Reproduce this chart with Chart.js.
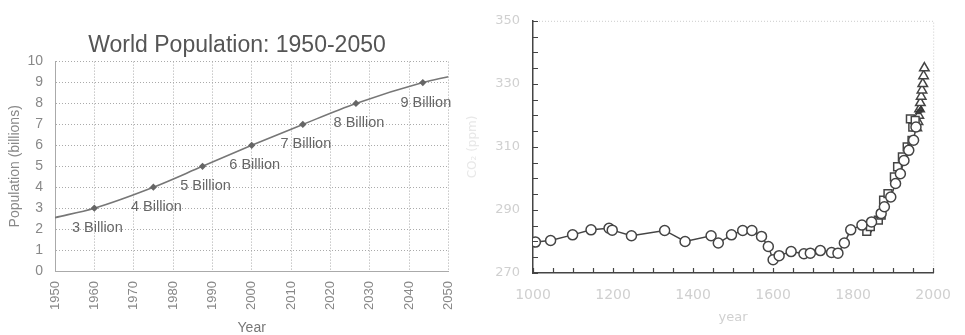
<!DOCTYPE html>
<html lang="en">
<head>
  <meta charset="UTF-8">
  <title>World Population and CO2</title>
  <style>
    body { margin: 0; background: #fff; }
    .wrap { position: relative; width: 965px; height: 335px; overflow: hidden; }
    #popBox { position: absolute; left: 0; top: 0; width: 474px; height: 335px; }
    #co2Box { position: absolute; left: 460px; top: 0; width: 505px; height: 335px; }
  </style>
</head>
<body>
  <div class="wrap">
    <div id="popBox"><canvas id="popChart"></canvas></div>
    <div id="co2Box"><canvas id="co2Chart"></canvas></div>
  </div>

  <script src="https://cdn.jsdelivr.net/npm/chart.js"></script>
  <script>
    // left chart: world population
    const popYears = [1950, 1960, 1975, 1987.5, 2000, 2013, 2026.5, 2043.5, 2050];
    const popValues = [2.55, 3, 4, 5, 6, 7, 8, 9, 9.28];
    const milestoneLabels = ['', '3 Billion', '4 Billion', '5 Billion', '6 Billion', '7 Billion', '8 Billion', '9 Billion', ''];

    // right chart: CO2 from ice cores and Mauna Loa
    const lawDomeYears = [1006, 1044, 1099, 1145, 1190, 1198, 1246, 1329, 1380, 1445, 1463, 1496, 1524, 1547, 1571, 1588, 1600, 1615, 1645, 1677, 1693, 1718, 1746, 1762, 1778, 1794, 1822, 1846, 1870, 1878, 1894, 1906, 1918, 1927, 1939, 1951, 1957];
    const lawDomeCO2 = [279.8, 280.3, 282.1, 283.7, 284.2, 283.6, 281.8, 283.5, 280.0, 281.8, 279.5, 282.1, 283.5, 283.5, 281.6, 278.4, 274.2, 275.5, 276.8, 276.1, 276.3, 277.1, 276.5, 276.3, 279.5, 283.7, 285.2, 286.2, 288.9, 291, 294.1, 298.4, 301.5, 305.7, 308.9, 312.1, 316.3];
    const sipleYears = [1834, 1843, 1863, 1870, 1876, 1887, 1903, 1911, 1923, 1935, 1943, 1947, 1949, 1955];
    const sipleCO2 = [283.2, 284.7, 286.8, 288.4, 293.1, 295.2, 300.5, 303.7, 306.8, 310, 318.9, 312.1, 316.3, 318.4];
    const maunaLoaYears = [1959, 1962, 1964, 1966, 1968, 1970, 1972, 1974, 1976, 1978];
    const maunaLoaCO2 = [316, 318, 320, 322, 324, 326, 328, 330, 332.5, 335];
    const byrdYears = [1840, 1872, 1893, 1912, 1930, 1962, 1966, 1969];
    const byrdCO2 = [283.5, 288, 295, 302, 307.5, 321, 321.5, 322];

    const co2Ticks = [270, 290, 310, 330, 350];
    const co2YearTicks = [1000, 1200, 1400, 1600, 1800, 2000];

    const pts = (xs, ys) => xs.map((x, i) => ({ x: x, y: ys[i] }));

    // writes "N Billion" under each milestone point
    const milestonePlugin = {
      id: 'milestones',
      afterDatasetsDraw(chart) {
        const ctx = chart.ctx;
        const meta = chart.getDatasetMeta(0);
        ctx.save();
        ctx.font = '14.5px "Liberation Sans", Arial, sans-serif';
        ctx.fillStyle = '#666';
        ctx.textAlign = 'center';
        ctx.textBaseline = 'middle';
        meta.data.forEach((pt, i) => {
          if (milestoneLabels[i]) ctx.fillText(milestoneLabels[i], pt.x + 3, pt.y + 20);
        });
        ctx.restore();
      }
    };

    new Chart(document.getElementById('popChart'), {
      type: 'line',
      data: {
        datasets: [{
          data: pts(popYears, popValues),
          borderColor: '#777',
          borderWidth: 1.6,
          cubicInterpolationMode: 'monotone',
          pointStyle: 'rectRot',
          pointRadius: milestoneLabels.map(l => l ? 2.5 : 0),
          pointBackgroundColor: '#666',
          pointBorderColor: '#666',
          fill: false
        }]
      },
      options: {
        responsive: true,
        maintainAspectRatio: false,
        animation: false,
        layout: { padding: { left: 0, right: 0, top: 0, bottom: 0 } },
        plugins: {
          legend: { display: false },
          tooltip: { enabled: false },
          title: {
            display: true,
            text: 'World Population: 1950-2050',
            color: '#555',
            font: { size: 23, family: '"Liberation Sans", Arial, sans-serif', weight: 'normal' },
            padding: { top: 32, bottom: 2 }
          }
        },
        scales: {
          x: {
            type: 'linear',
            min: 1950,
            max: 2050,
            ticks: {
              stepSize: 10,
              minRotation: 90,
              maxRotation: 90,
              padding: 10,
              color: '#888',
              font: { size: 13, family: '"Liberation Sans", Arial, sans-serif' },
              callback: v => String(v)
            },
            grid: { color: '#aaa', drawTicks: false },
            border: { dash: [1, 2], color: '#aaa' },
            title: {
              display: true,
              text: 'Year',
              color: '#777',
              font: { size: 14, family: '"Liberation Sans", Arial, sans-serif', lineHeight: 1 },
              padding: { top: 0, bottom: 0 }
            },
            afterFit: s => { s.height = 64; }
          },
          y: {
            min: 0,
            max: 10,
            ticks: {
              stepSize: 1,
              padding: 12,
              color: '#888',
              font: { size: 14, family: '"Liberation Sans", Arial, sans-serif' }
            },
            grid: { color: '#aaa', drawTicks: false },
            border: { dash: [1, 2], color: '#aaa' },
            title: {
              display: true,
              text: 'Population (billions)',
              color: '#888',
              font: { size: 14, family: '"Liberation Sans", Arial, sans-serif' },
              padding: { top: 7, bottom: 0 }
            },
            afterFit: s => { s.width = 55; }
          }
        }
      },
      plugins: [milestonePlugin]
    });

    // inward tick marks and the light dotted top/right frame
    const framePlugin = {
      id: 'frame',
      afterDraw(chart) {
        const ctx = chart.ctx;
        const a = chart.chartArea;
        const xs = chart.scales.x, ys = chart.scales.y;
        ctx.save();
        ctx.strokeStyle = '#ccc';
        ctx.lineWidth = 1;
        ctx.setLineDash([1, 2]);
        ctx.beginPath();
        ctx.moveTo(a.left, a.top + 0.5);
        ctx.lineTo(a.right + 0.5, a.top + 0.5);
        ctx.lineTo(a.right + 0.5, a.bottom);
        ctx.stroke();
        ctx.setLineDash([]);
        ctx.strokeStyle = '#444';
        ctx.lineWidth = 1.2;
        ctx.beginPath();
        ys.ticks.forEach(t => {
          const py = Math.round(ys.getPixelForValue(t.value)) + 0.5;
          ctx.moveTo(a.left, py);
          ctx.lineTo(a.left + 5, py);
        });
        xs.ticks.forEach(t => {
          const px = Math.round(xs.getPixelForValue(t.value)) + 0.5;
          ctx.moveTo(px, a.bottom);
          ctx.lineTo(px, a.bottom - 5);
        });
        ctx.stroke();
        ctx.restore();
      }
    };

    const faint = '#d0d0d0';
    const thinFont = { size: 13, family: '"Liberation Sans Narrow", "DejaVu Sans", sans-serif' };

    new Chart(document.getElementById('co2Chart'), {
      type: 'line',
      data: {
        datasets: [
          {
            data: pts(lawDomeYears, lawDomeCO2),
            borderColor: '#444',
            borderWidth: 1.5,
            pointStyle: 'circle',
            pointRadius: 5,
            pointBorderWidth: 1.5,
            pointBorderColor: '#444',
            pointBackgroundColor: '#fff',
            showLine: true
          },
          {
            data: pts(sipleYears, sipleCO2),
            showLine: false,
            pointStyle: 'rect',
            pointRadius: 5.5,
            pointBorderWidth: 1.5,
            pointBorderColor: '#444',
            pointBackgroundColor: '#fff'
          },
          {
            data: pts(byrdYears, byrdCO2),
            showLine: false,
            pointStyle: 'triangle',
            pointRadius: 3,
            pointBorderWidth: 1,
            pointBorderColor: '#333',
            pointBackgroundColor: '#444'
          },
          {
            data: pts(maunaLoaYears, maunaLoaCO2),
            showLine: false,
            pointStyle: 'triangle',
            pointRadius: 5.5,
            pointBorderWidth: 1.5,
            pointBorderColor: '#444',
            pointBackgroundColor: '#fff'
          }
        ]
      },
      options: {
        responsive: true,
        maintainAspectRatio: false,
        animation: false,
        layout: { padding: { left: 0, right: 18, top: 20, bottom: 0 } },
        plugins: { legend: { display: false }, tooltip: { enabled: false } },
        scales: {
          x: {
            type: 'linear',
            min: 1000,
            max: 2000,
            ticks: {
              stepSize: 50,
              padding: 14,
              color: faint,
              font: { size: 14, family: thinFont.family },
              autoSkip: false,
              maxRotation: 0,
              callback: v => co2YearTicks.includes(v) ? String(v) : ''
            },
            grid: { display: false, drawTicks: false },
            border: { display: true, color: '#444', width: 1.5 },
            title: {
              display: true,
              text: 'year',
              color: faint,
              font: thinFont,
              padding: { top: 0, bottom: 10 }
            },
            afterFit: s => { s.height = 62; }
          },
          y: {
            min: 270,
            max: 350,
            ticks: {
              stepSize: 5,
              padding: 13,
              color: faint,
              font: thinFont,
              autoSkip: false,
              callback: v => co2Ticks.includes(v) ? String(v) : ''
            },
            grid: { display: false, drawTicks: false },
            border: { display: true, color: '#444', width: 1.5 },
            title: {
              display: true,
              text: 'CO₂ (ppm)',
              color: '#e8e8e8',
              font: { size: 12, family: thinFont.family },
              padding: { top: 6, bottom: 0 }
            },
            afterFit: s => { s.width = 73; }
          }
        }
      },
      plugins: [framePlugin]
    });
  </script>
</body>
</html>
